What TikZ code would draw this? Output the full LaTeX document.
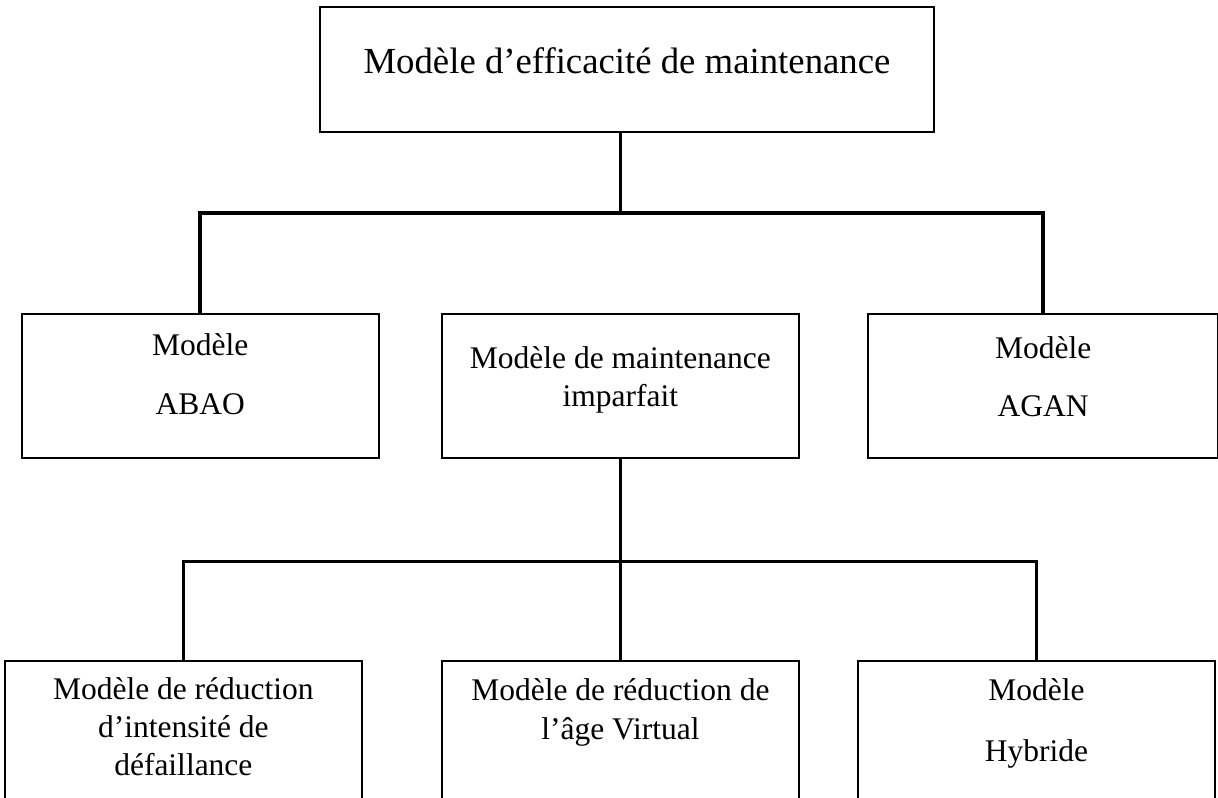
\documentclass[tikz,border=0pt]{standalone}
\usepackage{fontspec}
\setmainfont{Liberation Serif}
\usetikzlibrary{positioning}

\tikzset{
  box/.style={rectangle, draw, line width=0.8pt, minimum width=136pt, minimum height=55pt, inner sep=0pt},
  txt/.style={align=center, inner sep=0pt, font=\fontsize{12pt}{14.5pt}\selectfont},
  link/.style={line width=1.3pt}
}

\begin{document}
\begin{tikzpicture}
\useasboundingbox (0,0) rectangle (464pt,-304pt);
\clip (0,0) rectangle (464pt,-304pt);

%top
\node [box, minimum width=234pt, minimum height=47.6pt] (eff) at (238.85pt,-26.5pt) {};
\node [txt, font=\fontsize{14pt}{17pt}\selectfont, below=15.8pt of eff.north] (eff-txt) {Modèle d’efficacité de maintenance};

%first level
\node [box, below=68.5pt of eff, xshift=-2.5pt] (imp) {};
\node [box, left=23.3pt of imp] (abao) {};
\node [box, right=25.5pt of imp, minimum width=133.5pt] (agan) {};

\node [txt, below=7.5pt of abao.north] (abao-txt) {Modèle\\[8pt]ABAO};
\node [txt, below=12.8pt of imp.north] (imp-txt) {Modèle de maintenance\\imparfait};
\node [txt, below=9pt of agan.north] (agan-txt) {Modèle\\[7.5pt]AGAN};

\coordinate [below=30.5pt of eff] (bus1);
\draw [link] (eff.south -| imp.north) -- (bus1 -| imp.north);
\draw [link] (abao.north) |- (bus1 -| agan.north) -- (agan.north);

%second level
\node [box, below=76.5pt of imp, minimum height=60pt] (rva) {};
\node [box, left=29.7pt of rva, minimum height=60pt] (rid) {};
\node [box, right=21.7pt of rva, minimum height=60pt] (hyb) {};

\node [txt, below=6.3pt of rid.north] (rid-txt) {Modèle de réduction\\d’intensité de\\défaillance};
\node [txt, below=7pt of rva.north] (rva-txt) {Modèle de réduction de\\l’âge Virtual};
\node [txt, below=7pt of hyb.north] (hyb-txt) {Modèle\\[8.4pt]Hybride};

\coordinate [below=39pt of imp] (bus2);
\draw [link] (imp.south) -- (rva.north);
\draw [link] (rid.north) |- (bus2 -| hyb.north) -- (hyb.north);

\end{tikzpicture}
\end{document}
